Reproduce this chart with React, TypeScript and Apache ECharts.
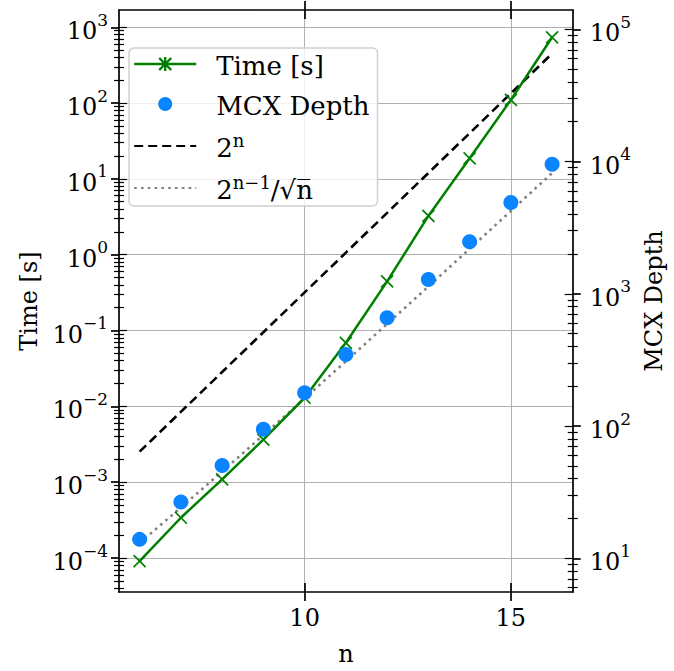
import React, { useEffect, useRef } from "react";
import * as echarts from "echarts";

// ---- data ----
const nValues = [6, 7, 8, 9, 10, 11, 12, 13, 14, 15, 16];
const timeSeconds = [9.1e-5, 3.4e-4, 1.09e-3, 3.65e-3, 1.3e-2, 6.9e-2, 0.445, 3.25, 18.7, 110, 738];
const mcxDepth = [13.9, 26.6, 50.4, 94.4, 178.7, 348, 659, 1283, 2472, 4898, 9550];
const pow2Values = [64, 128, 256, 512, 1024, 2048, 4096, 8192, 16384, 32768, 65536];
const pow2SqrtValues = [13.06, 24.19, 45.25, 85.33, 161.9, 308.7, 591.2, 1136, 2189, 4230, 8192];

const xTickValues = [10, 15];
const leftDecades = [1e-4, 1e-3, 1e-2, 1e-1, 1, 10, 100, 1000];
const rightDecades = [10, 100, 1000, 10000, 100000];

const seriesNames = ["Time [s]", "MCX Depth", "2^n", "2^(n-1)/sqrt(n)"];
const legendLabels: Record<string, string> = {
  "Time [s]": "{gap|}{b|Time [s]}",
  "MCX Depth": "{gap|}{b|MCX Depth}",
  "2^n": "{gap|}{b|2}{s|n}",
  "2^(n-1)/sqrt(n)": "{gap|}{b|2}{s|n\u22121}{b|/\u221An\u0305}",
};

const xMin = 5.5;
const xMax = 16.5;
const leftMin = 3.565e-5;
const leftMax = 1690;
const rightMin = 5.56;
const rightMax = 139960;

const FONT = "DejaVu Serif";

function minorTicks(min: number, max: number): number[] {
  const out: number[] = [];
  const k0 = Math.floor(Math.log10(min));
  const k1 = Math.ceil(Math.log10(max));
  for (let k = k0; k <= k1; k++) {
    for (let m = 2; m <= 9; m++) {
      const v = m * Math.pow(10, k);
      if (v >= min && v <= max) out.push(v);
    }
  }
  return out;
}

function decadeLabel(v: number): string {
  const e = Math.round(Math.log10(v));
  const es = e < 0 ? "\u2212" + -e : String(e);
  return `{b|10}{s|${es}}`;
}

const labelRich = {
  b: { fontFamily: FONT, fontSize: 24, lineHeight: 32, verticalAlign: "bottom", color: "#000" },
  s: { fontFamily: FONT, fontSize: 17, lineHeight: 17, verticalAlign: "top", color: "#000" },
};

export default function App() {
  const ref = useRef<HTMLDivElement>(null);
  useEffect(() => {
    if (!ref.current) return;
    const chart = echarts.init(ref.current, undefined, { renderer: "svg" });
    const black = { color: "#000", width: 1.7 };
    const nameStyle = { fontFamily: FONT, fontSize: 24, color: "#000" };

    const xBase = { type: "value", min: xMin, max: xMax, gridIndex: 0 };
    const xAxis = [
      {
        ...xBase,
        position: "bottom",
        name: "n",
        nameLocation: "middle",
        nameGap: 50,
        nameTextStyle: nameStyle,
        axisLine: { show: true, onZero: false, lineStyle: black },
        axisTick: { show: true, inside: false, length: 9, customValues: xTickValues, lineStyle: black },
        axisLabel: { show: true, customValues: xTickValues, margin: 14, fontFamily: FONT, fontSize: 24, color: "#000" },
        splitLine: { show: true, lineStyle: { color: "#b0b0b0", width: 1 } },
      },
      {
        ...xBase,
        position: "bottom",
        axisLine: { show: false, onZero: false },
        axisTick: { show: true, inside: true, length: 9, customValues: xTickValues, lineStyle: black },
        axisLabel: { show: false },
        splitLine: { show: false },
      },
      {
        ...xBase,
        position: "top",
        axisLine: { show: true, onZero: false, lineStyle: black },
        axisTick: { show: true, inside: false, length: 9, customValues: xTickValues, lineStyle: black },
        axisLabel: { show: false },
        splitLine: { show: false },
      },
      {
        ...xBase,
        position: "top",
        axisLine: { show: false, onZero: false },
        axisTick: { show: true, inside: true, length: 9, customValues: xTickValues, lineStyle: black },
        axisLabel: { show: false },
        splitLine: { show: false },
      },
    ];

    const leftBase = { type: "log", logBase: 10, min: leftMin, max: leftMax, position: "left", gridIndex: 0 };
    const rightBase = { type: "log", logBase: 10, min: rightMin, max: rightMax, position: "right", gridIndex: 0 };
    const leftMinor = minorTicks(leftMin, leftMax);
    const rightMinor = minorTicks(rightMin, rightMax);
    const hidden = (base: any, values: number[], inside: boolean, length: number) => ({
      ...base,
      axisLine: { show: false, onZero: false },
      axisTick: { show: true, inside, length, customValues: values, lineStyle: { color: "#000", width: 1.2 } },
      axisLabel: { show: false },
      splitLine: { show: false },
      minorTick: { show: false },
    });

    const yAxis = [
      {
        ...leftBase,
        name: "Time [s]",
        nameLocation: "middle",
        nameRotate: 90,
        nameGap: 78,
        nameTextStyle: nameStyle,
        axisLine: { show: true, onZero: false, lineStyle: black },
        axisTick: { show: true, inside: false, length: 8, customValues: leftDecades, lineStyle: black },
        axisLabel: { show: true, customValues: leftDecades, margin: 11, formatter: decadeLabel, rich: labelRich },
        splitLine: { show: true, lineStyle: { color: "#b0b0b0", width: 1 } },
      },
      hidden(leftBase, leftDecades, true, 8),
      hidden(leftBase, leftMinor, false, 5),
      hidden(leftBase, leftMinor, true, 5),
      {
        ...rightBase,
        name: "MCX Depth",
        nameLocation: "middle",
        nameRotate: 90,
        nameGap: 64,
        nameTextStyle: nameStyle,
        axisLine: { show: true, onZero: false, lineStyle: black },
        axisTick: { show: true, inside: false, length: 8, customValues: rightDecades, lineStyle: black },
        axisLabel: { show: true, customValues: rightDecades, margin: 17, formatter: decadeLabel, rich: labelRich },
        splitLine: { show: false },
      },
      hidden(rightBase, rightDecades, true, 8),
      hidden(rightBase, rightMinor, false, 5),
      hidden(rightBase, rightMinor, true, 5),
    ];

    const pairs = (ys: number[]) => nValues.map((n, i) => [n, ys[i]]);
    const noSymbol = { color: "rgba(0,0,0,0)", borderWidth: 0, opacity: 0 };

    chart.setOption({
      animation: false,
      backgroundColor: "#fff",
      grid: { left: 119, right: 89, top: 10, bottom: 78, containLabel: false },
      xAxis,
      yAxis,
      legend: {
        orient: "vertical",
        left: 129,
        top: 48,
        itemWidth: 62,
        itemHeight: 14,
        itemGap: 12,
        padding: [3, 8, 3, 4],
        backgroundColor: "rgba(255,255,255,0.8)",
        borderColor: "#d0d0d0",
        borderWidth: 1.5,
        borderRadius: 5,
        selectedMode: false,
        data: [
          {
            name: seriesNames[0],
            icon: "path://M0,7 L62,7 M31,0 L31,14 M25,1 L37,13 M37,1 L25,13",
            itemStyle: { color: "rgba(0,0,0,0)", borderColor: "#008000", borderWidth: 2.4 },
          },
          { name: seriesNames[1] },
          { name: seriesNames[2], itemStyle: noSymbol },
          { name: seriesNames[3], itemStyle: noSymbol },
        ],
        formatter: (name: string) => legendLabels[name],
        textStyle: {
          fontFamily: FONT,
          fontSize: 26,
          color: "#000",
          rich: {
            gap: { width: 15 },
            b: { fontFamily: FONT, fontSize: 26, lineHeight: 30, verticalAlign: "bottom", color: "#000" },
            s: { fontFamily: FONT, fontSize: 18, lineHeight: 18, verticalAlign: "top", color: "#000" },
          },
        },
      },
      series: [
        {
          name: seriesNames[0],
          type: "line",
          xAxisIndex: 0,
          yAxisIndex: 0,
          data: pairs(timeSeconds),
          symbol: "path://M0,0 L10,10 M10,0 L0,10",
          symbolSize: 12,
          showSymbol: true,
          lineStyle: { color: "#008000", width: 2.5 },
          itemStyle: { color: "#008000", borderColor: "#008000", borderWidth: 1.7 },
          z: 3,
        },
        {
          name: seriesNames[1],
          type: "scatter",
          xAxisIndex: 0,
          yAxisIndex: 4,
          data: pairs(mcxDepth),
          symbol: "circle",
          symbolSize: 15,
          itemStyle: { color: "#0a84ff", opacity: 1 },
          z: 4,
        },
        {
          name: seriesNames[2],
          type: "line",
          xAxisIndex: 0,
          yAxisIndex: 4,
          data: pairs(pow2Values),
          symbol: "none",
          lineStyle: { color: "#000", width: 2.6, type: [9, 5] },
          z: 2,
        },
        {
          name: seriesNames[3],
          type: "line",
          xAxisIndex: 0,
          yAxisIndex: 4,
          data: pairs(pow2SqrtValues),
          symbol: "none",
          lineStyle: { color: "#808080", width: 2.6, type: [2.6, 4.2] },
          z: 2,
        },
      ],
    });
    return () => chart.dispose();
  }, []);
  return (
    <div
      ref={ref}
      style={{ position: "fixed", left: 0, top: 0, width: 674, height: 671, background: "#fff" }}
    />
  );
}
